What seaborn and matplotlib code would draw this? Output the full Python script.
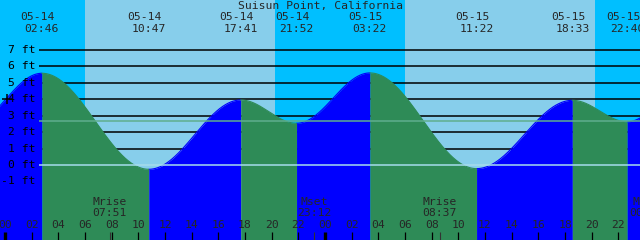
import numpy as np
import pandas as pd
import matplotlib
matplotlib.use("Agg")
import matplotlib.pyplot as plt
import seaborn as sns

# ---------------- data ----------------
title = "Suisun Point, California"
tide_stamps = ["05-14 02:46", "05-14 10:47", "05-14 17:41", "05-14 21:52",
               "05-15 03:22", "05-15 11:22", "05-15 18:33", "05-15 22:40"]
tide_heights = [5.56, -0.26, 3.94, 2.53, 5.58, -0.22, 3.92, 2.62]
# neighbouring extremes just outside the chart window
prev_stamp, prev_height = "05-13 21:20", 2.40
next_stamp, next_height = "05-16 03:58", 5.50

day_starts = ["05-14 06:00", "05-15 06:00"]
day_ends = ["05-14 20:15", "05-15 20:15"]

moon_events = ["Mrise", "Mset", "Mrise", "Mset"]
moon_stamps = ["05-14 07:51", "05-14 23:12", "05-15 08:37", "05-16 00:06"]

ft_levels = [-1, 0, 1, 2, 3, 4, 5, 6, 7]
ft_labels = [f"{v} ft" for v in ft_levels]
hour_ticks = list(range(0, 48, 2))
hour_labels = [f"{h % 24:02d}" for h in hour_ticks]
mean_level = 2.68
now_stamp, now_level = "05-14 00:09", 4.0

# ---------------- helpers ----------------
def to_hours(stamp):
    d, t = stamp.split()
    day = int(d.split("-")[1])
    hh, mm = t.split(":")
    return (day - 14) * 24 + int(hh) + int(mm) / 60.0

# pixel layout of 640x240 canvas
PX_PER_H = 40 / 3.0
X0 = 5.0
Y0 = 165.0
PX_PER_FT = 16.5
def px_x(p):
    return (p - X0) / PX_PER_H
def px_y(p):
    return (Y0 - p) / PX_PER_FT

XMIN, XMAX = px_x(0), px_x(640)
YMIN, YMAX = px_y(240), px_y(0)

NIGHT = "#00BFFF"
DAY = "#87CEEB"
RISE = "#0000FF"
FALL = "#2E8B57"

sns.set_style("white")
plt.rcParams["font.family"] = ["DejaVu Sans Mono"]
FS = 8.2

fig = plt.figure(figsize=(6.4, 2.4), dpi=100)
ax = fig.add_axes([0, 0, 1, 1])
ax.set_xlim(XMIN, XMAX)
ax.set_ylim(YMIN, YMAX)
ax.axis("off")

# background
ax.axvspan(XMIN, XMAX, color=NIGHT, zorder=0, lw=0)
for s, e in zip(day_starts, day_ends):
    ax.axvspan(to_hours(s), to_hours(e), color=DAY, zorder=0.5, lw=0)

# gridlines
for v in ft_levels:
    if v > 0:
        ax.hlines(v, px_x(39), XMAX, color="black", lw=1.1, zorder=1)

# tide curve between extremes
ext_t = [to_hours(prev_stamp)] + [to_hours(s) for s in tide_stamps] + [to_hours(next_stamp)]
ext_h = [prev_height] + tide_heights + [next_height]
rows = []
for i in range(len(ext_t) - 1):
    t0, t1, h0, h1 = ext_t[i], ext_t[i + 1], ext_h[i], ext_h[i + 1]
    tt = np.linspace(t0, t1, 200)
    hh = h0 + (h1 - h0) * (1 - np.cos(np.pi * (tt - t0) / (t1 - t0))) / 2
    kind = "rise" if h1 > h0 else "fall"
    ax.fill_between(tt, hh, YMIN, color=RISE if kind == "rise" else FALL,
                    lw=0, zorder=2)
    rows.append(pd.DataFrame({"t": tt, "h": hh, "kind": kind, "seg": i}))
df = pd.concat(rows, ignore_index=True)
sns.lineplot(data=df, x="t", y="h", hue="kind", units="seg", estimator=None,
             palette={"rise": RISE, "fall": FALL}, lw=0.8, legend=False,
             ax=ax, zorder=2.1)
ax.set_xlim(XMIN, XMAX)
ax.set_ylim(YMIN, YMAX)
ax.axis("off")

# datum and mean lines
ax.hlines(0, px_x(39), XMAX, color="#A6DCEC", lw=1.1, zorder=3)
ax.hlines(mean_level, px_x(39), XMAX, color="#5FAE8E", lw=1.1, zorder=3)

# y labels
for v, lab in zip(ft_levels, ft_labels):
    ax.text(px_x(35.5), v, lab, ha="right", va="center", fontsize=FS,
            color="black", zorder=5)
ax.plot([to_hours(now_stamp)], [now_level], marker="+", ms=7, mew=1.1,
        color="black", zorder=5)

# title
ax.text(px_x(320), px_y(6), title, ha="center", va="center", fontsize=FS, zorder=5)

# tide time labels
for s in tide_stamps:
    d, t = s.split()
    x = to_hours(s)
    ax.text(x - 4 / PX_PER_H, px_y(16.7), d, ha="center", va="center",
            fontsize=FS, zorder=5)
    ax.text(x, px_y(29.3), t, ha="center", va="center", fontsize=FS, zorder=5)

# moon labels
for ev, s in zip(moon_events, moon_stamps):
    x = to_hours(s)
    ax.text(x, px_y(201.7), ev, ha="center", va="center", fontsize=FS, zorder=5)
    ax.text(x, px_y(213.2), s.split()[1], ha="center", va="center",
            fontsize=FS, zorder=5)
    ax.vlines(x, YMIN, px_y(232), color="#333333", lw=0.8, zorder=4)

# hour ticks
for h, lab in zip(hour_ticks, hour_labels):
    ax.text(h, px_y(225.5), lab, ha="center", va="center", fontsize=FS, zorder=5)
    ax.vlines(h, YMIN, px_y(232), color="black",
              lw=2.4 if h % 24 == 0 else 0.9, zorder=4)
ax.vlines(24 * 2, YMIN, px_y(232), color="black", lw=2.4, zorder=4)

fig.savefig("out.png", dpi=100)
